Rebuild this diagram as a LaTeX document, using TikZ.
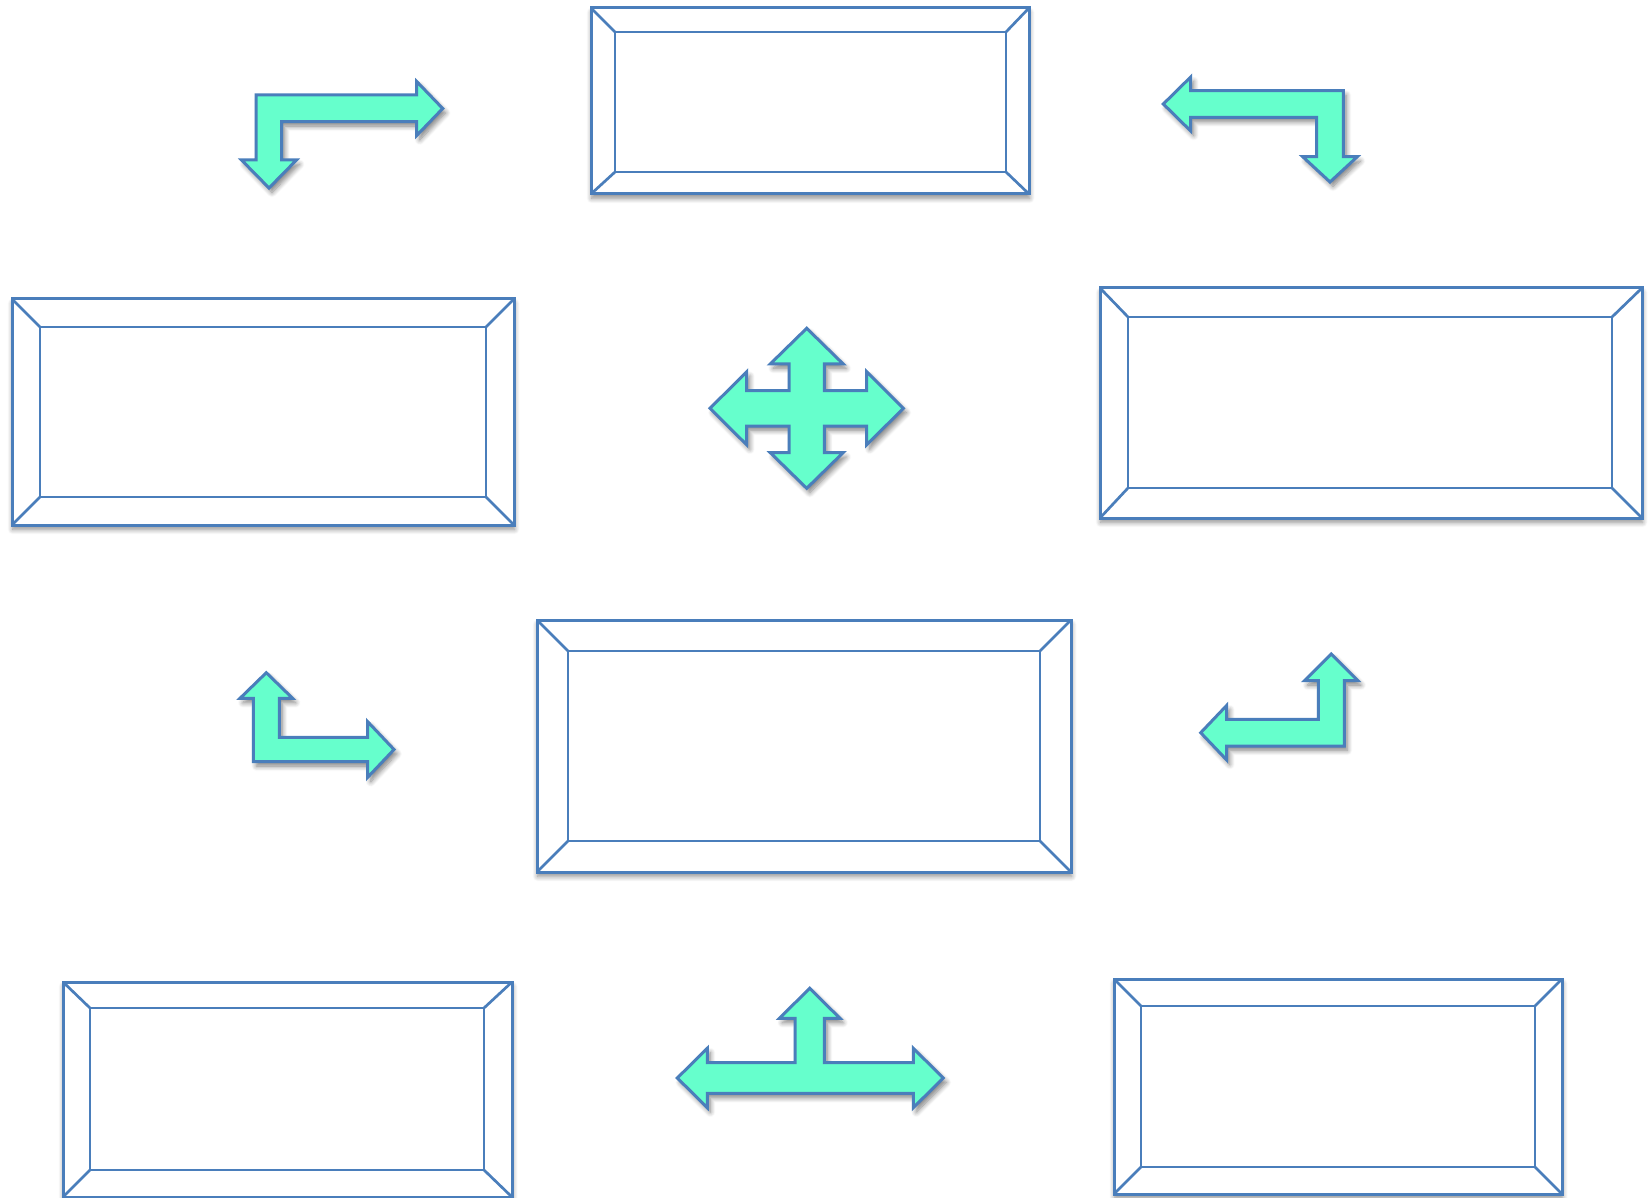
\documentclass[tikz,border=0pt]{standalone}
\usetikzlibrary{shadows.blur}
\definecolor{bblue}{HTML}{4A7EBB}
\definecolor{aqua}{HTML}{66FFCC}
\tikzset{
  boxouter/.style={draw=bblue, line width=1.5pt, fill=white,
    blur shadow={shadow xshift=0.3pt, shadow yshift=-2.2pt, shadow opacity=45, shadow blur steps=8, shadow blur radius=2.5pt}},
  boxinner/.style={draw=bblue, line width=1.35pt},
  blockarrow/.style={draw=bblue, line width=1.5pt, fill=aqua, line join=miter,
    blur shadow={shadow xshift=1.5pt, shadow yshift=-2.2pt, shadow opacity=50, shadow blur steps=8, shadow blur radius=2.5pt}}
}
\newcommand\bevbox[8]{%
  \draw[boxouter] (#1,#2) rectangle (#3,#4);
  \draw[boxinner] (#5,#6) rectangle (#7,#8);
  \draw[boxinner] (#1,#2) -- (#5,#6) (#3,#2) -- (#7,#6) (#1,#4) -- (#5,#8) (#3,#4) -- (#7,#8);
}
\begin{document}
\begin{tikzpicture}[x=0.5pt, y=-0.5pt]
\useasboundingbox (0,0) rectangle (1650,1198);
% boxes
\bevbox{591}{8}{1029}{194}{615}{32}{1006}{172}
\bevbox{12}{299}{514}{525}{40}{327}{486}{497}
\bevbox{1100}{288}{1642}{518}{1128}{317}{1612}{488}
\bevbox{537}{620}{1071}{872}{568}{651}{1040}{841}
\bevbox{63}{982}{512}{1197}{90}{1008}{484}{1170}
\bevbox{1114}{979}{1562}{1194}{1141}{1006}{1535}{1167}
% arrow top-left: right and down
\draw[blockarrow] (256,95) -- (416.7,95) -- (416.7,81.5) -- (442.7,108.5) -- (416.7,135.5) -- (416.7,121.7) -- (281.7,121.7) -- (281.7,160) -- (296.5,160) -- (269,188) -- (241.5,160) -- (256,160) -- cycle;
% arrow top-right: left and down
\draw[blockarrow] (1163.3,104) -- (1190.7,77) -- (1190.7,90.7) -- (1343.3,90.7) -- (1343.3,156.7) -- (1357.3,156.7) -- (1330,182) -- (1302.7,156.7) -- (1316.7,156.7) -- (1316.7,117.3) -- (1190.7,117.3) -- (1190.7,131) -- cycle;
% four-way arrow
\draw[blockarrow] (806.7,328.3) -- (843.2,364) -- (824.4,364) -- (824.4,390.6) -- (866.7,390.6) -- (866.7,371.8) -- (903.4,408.3) -- (866.7,444.8) -- (866.7,426) -- (824.4,426) -- (824.4,452.6) -- (843.2,452.6) -- (806.7,488.3) -- (770.2,452.6) -- (789,452.6) -- (789,426) -- (746.7,426) -- (746.7,444.8) -- (710,408.3) -- (746.7,371.8) -- (746.7,390.6) -- (789,390.6) -- (789,364) -- (770.2,364) -- cycle;
% arrow bottom-left: up and right
\draw[blockarrow] (266.3,672.7) -- (292.6,698.3) -- (279.3,698.3) -- (279.3,737.3) -- (367.7,737.3) -- (367.7,721.7) -- (394,749.5) -- (367.7,777.3) -- (367.7,761.7) -- (253.3,761.7) -- (253.3,698.3) -- (240,698.3) -- cycle;
% arrow right: left and up
\draw[blockarrow] (1331.3,654) -- (1358,680.7) -- (1344.3,680.7) -- (1344.3,746) -- (1226.7,746) -- (1226.7,760) -- (1200.7,732.7) -- (1226.7,705.4) -- (1226.7,719.3) -- (1318.3,719.3) -- (1318.3,680.7) -- (1304.6,680.7) -- cycle;
% T arrow bottom
\draw[blockarrow] (809.7,988.3) -- (840,1018.3) -- (824.3,1018.3) -- (824.3,1062.7) -- (913.3,1062.7) -- (913.3,1048.3) -- (943.3,1078) -- (913.3,1107.7) -- (913.3,1093.3) -- (707.3,1093.3) -- (707.3,1107.7) -- (677.3,1078) -- (707.3,1048.3) -- (707.3,1062.7) -- (795,1062.7) -- (795,1018.3) -- (779.4,1018.3) -- cycle;
\end{tikzpicture}
\end{document}
